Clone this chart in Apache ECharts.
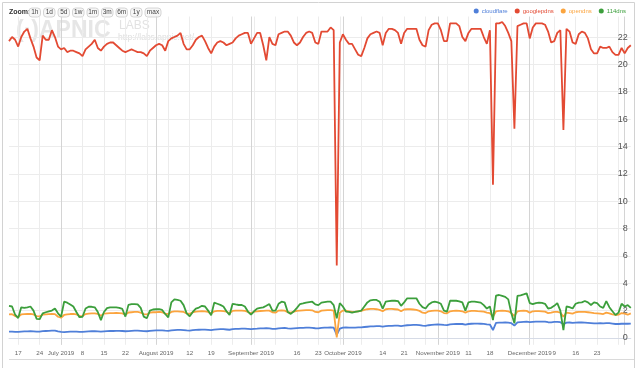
<!DOCTYPE html>
<html><head><meta charset="utf-8">
<script src="https://cdn.jsdelivr.net/npm/echarts@6/dist/echarts.min.js"></script>
<style>html,body{margin:0;padding:0;background:#fff}#c{width:640px;height:368px}</style>
</head><body><div id="c"></div>
<script>
const startDate = '2019-06-14';
const seriesNames = ['cloudflare', 'googlepdns', 'opendns', '114dns'];

const cloudflare = [
0.46,0.47,0.45,0.44,0.47,0.48,0.48,0.49,0.48,0.46,
0.46,0.5,0.51,0.52,0.53,0.53,0.48,0.44,0.43,0.45,
0.46,0.47,0.47,0.45,0.45,0.47,0.48,0.49,0.5,0.48,
0.46,0.48,0.5,0.51,0.51,0.52,0.52,0.51,0.49,0.5,
0.52,0.53,0.53,0.52,0.5,0.49,0.52,0.54,0.55,0.55,
0.55,0.53,0.52,0.56,0.58,0.59,0.59,0.58,0.55,0.54,
0.57,0.59,0.6,0.61,0.61,0.59,0.57,0.61,0.63,0.64,
0.64,0.62,0.6,0.64,0.66,0.67,0.68,0.68,0.66,0.64,
0.67,0.68,0.7,0.7,0.71,0.7,0.67,0.66,0.7,0.72,
0.73,0.7,0.68,0.7,0.72,0.73,0.74,0.75,0.75,0.74,
0.71,0.7,0.74,0.75,0.76,0.77,0.75,0.22,0.68,0.76,
0.77,0.76,0.75,0.76,0.77,0.78,0.8,0.82,0.84,0.85,
0.86,0.86,0.83,0.86,0.88,0.89,0.9,0.9,0.87,0.9,
0.93,0.94,0.95,0.95,0.94,0.9,0.89,0.93,0.96,0.98,
0.99,0.98,0.95,0.94,0.99,1.01,1.02,1.03,1.02,0.98,
1.02,1.04,1.05,1.05,1.04,1.03,1.0,0.98,0.58,1.1,
1.12,1.12,1.13,1.12,1.08,0.9,1.14,1.16,1.18,1.19,
1.16,1.18,1.19,1.2,1.2,1.19,1.15,1.14,1.17,1.18,
1.15,1.0,1.12,1.13,1.1,1.12,1.13,1.13,1.12,1.1,
1.08,1.06,1.07,1.08,1.07,1.08,1.08,1.05,1.02,1.02,
1.04,1.05,1.04,1.05];

const googlepdns = [
21.7,22.0,21.8,21.3,22.0,22.4,22.6,21.9,21.3,20.5,
20.3,22.1,21.8,21.8,22.5,22.0,21.3,21.1,21.2,20.9,
21.0,21.0,20.9,20.8,20.6,21.1,21.3,21.5,21.8,21.2,
21.0,21.3,21.5,21.6,21.6,21.4,21.2,21.0,20.9,21.0,
21.1,21.0,20.9,20.9,20.8,20.6,21.0,21.2,21.4,21.5,
21.4,21.0,21.7,21.9,22.0,22.1,22.3,21.5,21.1,21.1,
21.4,21.8,22.0,22.1,21.7,21.2,20.8,21.3,21.6,21.7,
21.6,21.4,21.5,21.6,21.9,22.1,22.2,22.3,22.3,21.5,
21.9,22.3,22.3,21.4,20.3,22.0,21.5,21.4,22.2,22.3,
22.4,22.4,22.1,21.6,21.4,21.6,22.0,22.3,22.4,22.3,
21.6,21.5,22.4,22.4,22.4,22.7,22.5,5.3,21.6,22.2,
21.8,21.5,21.5,21.1,20.7,20.6,21.2,21.9,22.2,22.3,
22.4,22.3,21.4,22.3,22.6,22.6,22.5,22.3,21.5,22.3,
22.6,22.6,22.6,22.6,21.8,21.4,21.3,22.5,22.9,23.0,
23.0,22.5,21.7,21.7,23.0,23.0,23.0,22.8,22.0,21.7,
22.3,22.6,22.6,22.6,22.6,22.0,21.5,22.5,11.2,23.0,
23.0,23.1,22.8,22.3,21.7,15.3,22.8,22.9,23.0,23.0,
21.9,22.7,23.0,23.0,23.0,22.9,22.4,21.6,21.7,22.3,
22.5,15.2,22.6,22.4,21.6,21.5,22.2,22.4,22.3,21.9,
21.1,20.8,20.8,21.3,21.2,21.2,21.3,20.9,20.7,20.7,
21.2,20.8,21.2,21.4];

const opendns = [
1.72,1.74,1.6,1.55,1.72,1.74,1.75,1.76,1.72,1.6,
1.58,1.7,1.72,1.74,1.75,1.74,1.55,1.48,1.68,1.72,
1.75,1.76,1.72,1.62,1.6,1.75,1.78,1.8,1.8,1.76,
1.62,1.78,1.8,1.82,1.82,1.83,1.82,1.8,1.7,1.86,
1.88,1.9,1.9,1.85,1.75,1.72,1.85,1.88,1.88,1.9,
1.88,1.78,1.75,1.9,1.95,1.95,1.93,1.9,1.8,1.76,
1.88,1.92,1.95,1.96,1.95,1.9,1.78,1.95,1.98,1.98,
1.96,1.92,1.8,1.98,2.0,2.0,2.0,1.98,1.9,1.8,
1.92,1.95,1.97,1.98,2.0,2.0,1.88,1.85,2.0,2.02,
2.0,1.88,1.85,1.92,1.98,2.0,2.02,2.04,2.04,2.02,
1.9,1.88,2.0,2.02,2.04,2.04,2.0,0.05,1.85,2.0,
2.0,1.95,1.9,1.92,1.95,1.98,2.05,2.1,2.12,2.12,
2.1,2.05,1.95,2.1,2.12,2.12,2.1,2.08,1.95,2.08,
2.1,2.1,2.08,2.05,1.98,1.85,1.82,1.95,1.98,2.0,
2.0,1.95,1.82,1.8,1.95,1.98,2.0,1.98,1.95,1.85,
1.95,1.98,1.98,1.96,1.95,1.92,1.85,1.82,1.55,1.95,
1.98,2.0,1.98,1.95,1.82,1.6,1.95,1.98,2.0,1.98,
1.85,1.95,1.96,1.96,1.95,1.92,1.82,1.85,1.9,1.9,
1.85,1.55,1.85,1.82,1.78,1.88,1.9,1.9,1.9,1.88,
1.85,1.82,1.8,1.78,1.75,1.85,1.8,1.72,1.68,1.7,
1.82,1.78,1.7,1.8];

const dns114 = [
2.34,2.3,1.7,1.45,2.24,2.2,2.24,2.3,2.0,1.4,
1.37,1.8,1.88,1.95,2.0,2.15,1.8,1.55,2.65,2.58,
2.45,2.3,1.9,1.52,1.55,2.15,2.28,2.28,2.24,1.9,
1.3,1.9,2.18,2.24,2.24,2.24,2.2,2.12,1.56,2.42,
2.48,2.48,2.45,2.2,1.56,1.44,2.0,2.08,2.1,2.1,
2.05,1.75,1.5,2.6,2.82,2.78,2.72,2.4,1.8,1.58,
1.9,2.15,2.22,2.35,2.3,2.0,1.66,2.58,2.5,2.42,
2.3,1.95,1.68,2.5,2.45,2.41,2.41,2.3,1.93,1.7,
1.95,2.15,2.2,2.24,2.35,2.48,2.0,2.0,2.5,2.65,
2.6,1.9,1.76,1.95,2.2,2.48,2.52,2.58,2.62,2.65,
2.45,2.4,2.58,2.62,2.65,2.65,2.4,1.44,2.55,2.3,
1.93,1.9,1.85,1.9,1.95,2.0,2.3,2.6,2.75,2.78,
2.78,2.65,2.15,2.65,2.7,2.72,2.72,2.7,2.35,2.6,
2.9,2.9,2.9,2.9,2.5,2.25,2.15,2.45,2.6,2.65,
2.6,2.5,2.0,1.93,2.72,2.72,2.72,2.68,2.6,2.0,
2.6,2.65,2.65,2.62,2.58,2.4,2.15,2.3,1.3,3.1,
3.14,3.07,3.0,2.82,1.8,1.07,3.07,3.12,3.18,3.26,
2.55,2.48,2.55,2.58,2.56,2.5,2.15,2.2,2.35,2.55,
2.0,0.58,2.3,2.25,2.15,2.5,2.58,2.6,2.7,2.6,
2.41,2.6,2.55,2.3,2.2,2.7,2.25,1.95,1.68,1.85,
2.5,2.3,2.4,2.2];

const tickLabels = [
['2019-06-17','17'],['2019-06-24','24'],['2019-07-01','July 2019'],['2019-07-08','8'],
['2019-07-15','15'],['2019-07-22','22'],['2019-08-01','August 2019'],['2019-08-12','12'],
['2019-08-19','19'],['2019-09-01','September 2019'],['2019-09-16','16'],['2019-09-23','23'],
['2019-10-01','October 2019'],['2019-10-14','14'],['2019-10-21','21'],['2019-11-01','November 2019'],
['2019-11-11','11'],['2019-11-18','18'],['2019-12-01','December 2019'],['2019-12-09','9'],
['2019-12-16','16'],['2019-12-23','23']];
const yTicks = [0,2,4,6,8,10,12,14,16,18,20,22];
const zoomButtons = ['1h','1d','5d','1w','1m','3m','6m','1y','max'];

// category dates (one per day)
const dates = [];
{
  const t0 = Date.parse(startDate + 'T00:00:00Z');
  for (let i = 0; i < googlepdns.length; i++) {
    dates.push(new Date(t0 + i * 86400000).toISOString().slice(0, 10));
  }
}
const labelMap = Object.fromEntries(tickLabels);
const isMonday = d => new Date(d + 'T00:00:00Z').getUTCDay() === 1;
const isMonthStart = d => d.endsWith('-01');

const colors = ['#4f7fd9', '#e34a33', '#fba43e', '#3c9f3c'];
const FONT = "'Liberation Sans', Arial, sans-serif";

const chart = echarts.init(document.getElementById('c'), null, {renderer: 'canvas'});

const graphics = [];
graphics.push({type: 'rect', shape: {x: 2.5, y: 2.5, width: 632, height: 380}, style: {fill: 'none', stroke: '#d2d2d2', lineWidth: 1}, z: 0, silent: true});
graphics.push({type: 'line', shape: {x1: 9, y1: 359.5, x2: 634, y2: 359.5}, style: {stroke: '#dadada', lineWidth: 1}, silent: true});
graphics.push({type: 'text', left: 9, top: 9, style: {text: 'Zoom:', font: 'bold 7px ' + FONT, fill: '#333'}});
{
  let x = 29;
  zoomButtons.forEach(b => {
    const w = b.length === 3 ? 16 : 11.5;
    graphics.push({type: 'rect', shape: {x: x, y: 8, width: w, height: 9, r: 3}, style: {fill: '#f7f7f7', stroke: '#cccccc', lineWidth: 0.8}, silent: true});
    graphics.push({type: 'text', x: x + w / 2, y: 12.7, style: {text: b, font: '6.5px ' + FONT, fill: '#444', align: 'center', verticalAlign: 'middle'}, silent: true});
    x += w + 3;
  });
}
// watermark
graphics.push({type: 'text', x: 16, y: 19, style: {text: '(·)APNIC', font: 'bold 23px ' + FONT, fill: '#e6e6e6'}, z: 0, silent: true});
graphics.push({type: 'text', x: 119, y: 20, style: {text: 'LABS', font: '12px ' + FONT, fill: '#e2e2e2'}, z: 0, silent: true});
graphics.push({type: 'text', x: 118, y: 33, style: {text: 'http://labs.apnic.net/', font: '8.5px ' + FONT, fill: '#e0e0e0'}, z: 0, silent: true});

const option = {
  animation: false,
  color: colors,
  textStyle: {fontFamily: FONT},
  grid: {left: 9, right: 9.2, top: 16.5, bottom: 23.2, containLabel: false},
  legend: {
    right: 14, top: 8, icon: 'circle', itemWidth: 5, itemHeight: 5, itemGap: 7, padding: 0,
    textStyle: {fontSize: 6, fontFamily: FONT, padding: [0, 0, 0, -2]},
    data: seriesNames.map((n, i) => ({name: n, textStyle: {color: colors[i]}}))
  },
  xAxis: [{
    type: 'category', data: dates, boundaryGap: false, position: 'bottom',
    axisLine: {show: true, lineStyle: {color: '#d6dbe6', width: 1}},
    axisTick: {show: false},
    axisLabel: {
      interval: (i, v) => v in labelMap,
      formatter: v => labelMap[v] || '',
      fontSize: 6.2, color: '#666', margin: 5, fontFamily: FONT
    },
    splitLine: {show: true, interval: (i, v) => isMonday(v), lineStyle: {color: '#ececec', width: 1}}
  }, {
    type: 'category', data: dates, boundaryGap: false, position: 'bottom',
    axisLine: {show: false}, axisTick: {show: false}, axisLabel: {show: false},
    splitLine: {show: true, interval: (i, v) => isMonthStart(v), lineStyle: {color: '#d4d4d4', width: 1}}
  }],
  yAxis: {
    type: 'value', position: 'right', min: -0.5, max: 23.5,
    axisLine: {show: false},
    axisTick: {show: false, customValues: yTicks},
    axisLabel: {inside: true, customValues: yTicks, fontSize: 9, color: '#555', margin: 3, fontFamily: FONT},
    splitLine: {show: true, lineStyle: {color: '#ececec', width: 1}}
  },
  series: [
    {name: 'cloudflare', data: cloudflare},
    {name: 'googlepdns', data: googlepdns},
    {name: 'opendns', data: opendns},
    {name: '114dns', data: dns114}
  ].map(s => Object.assign({type: 'line', showSymbol: false, symbol: 'none', lineStyle: {width: 1.8}, z: 3}, s)),
  graphic: graphics
};
chart.setOption(option);
</script>
</body></html>
